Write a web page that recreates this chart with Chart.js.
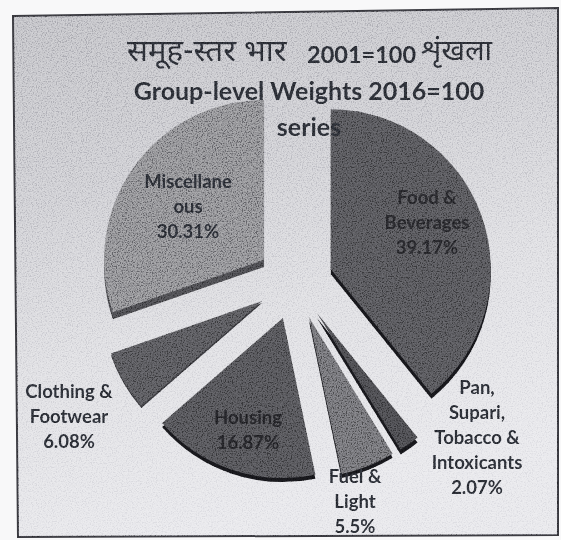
<!DOCTYPE html>
<html>
<head>
<meta charset="utf-8">
<title>Group-level Weights</title>
<script src="https://cdn.jsdelivr.net/npm/chart.js@4"></script>
<style>
    html, body { margin: 0; padding: 0; background: #f8f8f9; }
    #page { position: relative; width: 561px; height: 540px; overflow: hidden; }
    #frame { position: absolute; left: 0; top: 0; }
    #grain {
        position: absolute; left: 0; top: 0; width: 561px; height: 540px;
        clip-path: polygon(13px 16px, 558px 8px, 558px 535px, 18px 537px);
        pointer-events: none; mix-blend-mode: overlay; opacity: 0.3;
        background-image: url("data:image/svg+xml,%3Csvg xmlns='http://www.w3.org/2000/svg' width='300' height='300'%3E%3Cfilter id='n'%3E%3CfeTurbulence type='fractalNoise' baseFrequency='0.8' numOctaves='2' stitchTiles='stitch'/%3E%3CfeColorMatrix values='3 0 0 0 -1 3 0 0 0 -1 3 0 0 0 -1 0 0 0 0 1'/%3E%3C/filter%3E%3Crect width='300' height='300' filter='url(%23n)'/%3E%3C/svg%3E");
    }
    canvas { position: absolute; left: 0; top: 0; }
</style>
</head>
<body>
<div id="page">
    <svg id="frame" width="561" height="540">
        <defs>
            <linearGradient id="paper" x1="0" y1="0" x2="0.25" y2="1">
                <stop offset="0" stop-color="#bcbcc1"/>
                <stop offset="0.35" stop-color="#cacacf"/>
                <stop offset="0.65" stop-color="#dcdce0"/>
                <stop offset="1" stop-color="#e6e6ea"/>
            </linearGradient>
        </defs>
        <polygon points="13,16 558,8 558,535 18,537" fill="url(#paper)" stroke="#3a3a40" stroke-width="2"/>
    </svg>
    <canvas id="pie" width="561" height="540"></canvas>
    <div id="grain"></div>
</div>
<script>
// Dados
const categories = ['Food & Beverages', 'Pan, Supari, Tobacco & Intoxicants', 'Fuel & Light', 'Housing', 'Clothing & Footwear', 'Miscellaneous'];
const weights = [39.17, 2.07, 5.5, 16.87, 6.08, 30.31];
const wrappedNames = [['Food &', 'Beverages'], ['Pan,', 'Supari,', 'Tobacco &', 'Intoxicants'], ['Fuel &', 'Light'], ['Housing'], ['Clothing &', 'Footwear'], ['Miscellane', 'ous']];

// Aparência das fatias
const sliceColors = ['#525256', '#48484c', '#6c6c70', '#505054', '#545458', '#88888c'];
const rimColors = ['#16161a', '#16161a', '#16161a', '#16161a', '#343438', '#48484c'];
const rimDepths = [5, 5, 4, 4, 2, 7];
const explode = 38;

// Posição do texto: centro x e y da primeira linha
const labelSpots = [[427, 198], [477, 388], [355, 477], [248, 418], [69, 392], [188, 182]];
const labelInk = ['#26262a', '#2a2d34', '#2a2d34', '#232327', '#2a2d34', '#2a2d34'];

function drawTitle(ctx) {
    ctx.fillStyle = '#2a2d34';
    ctx.textBaseline = 'middle';
    ctx.textAlign = 'left';
    ctx.font = '400 31px "Noto Sans Devanagari", "Noto Sans", sans-serif';
    ctx.fillText('समूह-स्तर भार', 127, 55);
    ctx.font = '400 29px "Noto Sans Devanagari", "Noto Sans", sans-serif';
    ctx.fillText('शृंखला', 421, 55);
    ctx.font = '700 23.5px Lato, sans-serif';
    ctx.fillText('2001=100', 307, 55);
    ctx.textAlign = 'center';
    ctx.font = '700 25px Lato, sans-serif';
    ctx.fillText('Group-level Weights 2016=100', 309, 92);
    ctx.fillText('series', 309, 128);
}

const photocopyPie = {
    id: 'photocopyPie',
    // fatias separadas, cada uma com a sua borda escura (efeito 3D)
    // o offset do Chart.js também aumenta o raio das fatias pequenas, por isso o deslocamento é feito aqui
    beforeDatasetsDraw(chart) {
        chart.getDatasetMeta(0).data.forEach((arc, i) => {
            if (arc.rimWrapped) return;
            const drawArc = arc.draw;
            arc.draw = function(ctx) {
                const mid = (arc.startAngle + arc.endAngle) / 2;
                ctx.save();
                ctx.translate(Math.cos(mid) * explode, Math.sin(mid) * explode);
                ctx.shadowColor = rimColors[i];
                ctx.shadowOffsetX = 0;
                ctx.shadowOffsetY = rimDepths[i];
                ctx.shadowBlur = 0;
                drawArc.call(arc, ctx);
                ctx.restore();
            };
            arc.rimWrapped = true;
        });
    },
    afterDatasetsDraw(chart) {
        const ctx = chart.ctx;
        ctx.save();
        drawTitle(ctx);
        ctx.textAlign = 'center';
        ctx.textBaseline = 'middle';
        ctx.font = '700 18.5px Lato, sans-serif';
        categories.forEach((name, i) => {
            const lines = wrappedNames[i].concat(weights[i] + '%');
            ctx.fillStyle = labelInk[i];
            lines.forEach((line, n) => {
                ctx.fillText(line, labelSpots[i][0], labelSpots[i][1] + n * 25);
            });
        });
        ctx.restore();
    }
};

new Chart(document.getElementById('pie'), {
    type: 'pie',
    data: {
        labels: categories,
        datasets: [{
            data: weights,
            backgroundColor: sliceColors,
            borderWidth: 0
        }]
    },
    options: {
        responsive: false,
        animation: false,
        radius: 160,
        layout: { padding: { left: 116, right: 87, top: 103, bottom: 79 } },
        plugins: { legend: { display: false }, tooltip: { enabled: false } }
    },
    plugins: [photocopyPie]
});
</script>
</body>
</html>
